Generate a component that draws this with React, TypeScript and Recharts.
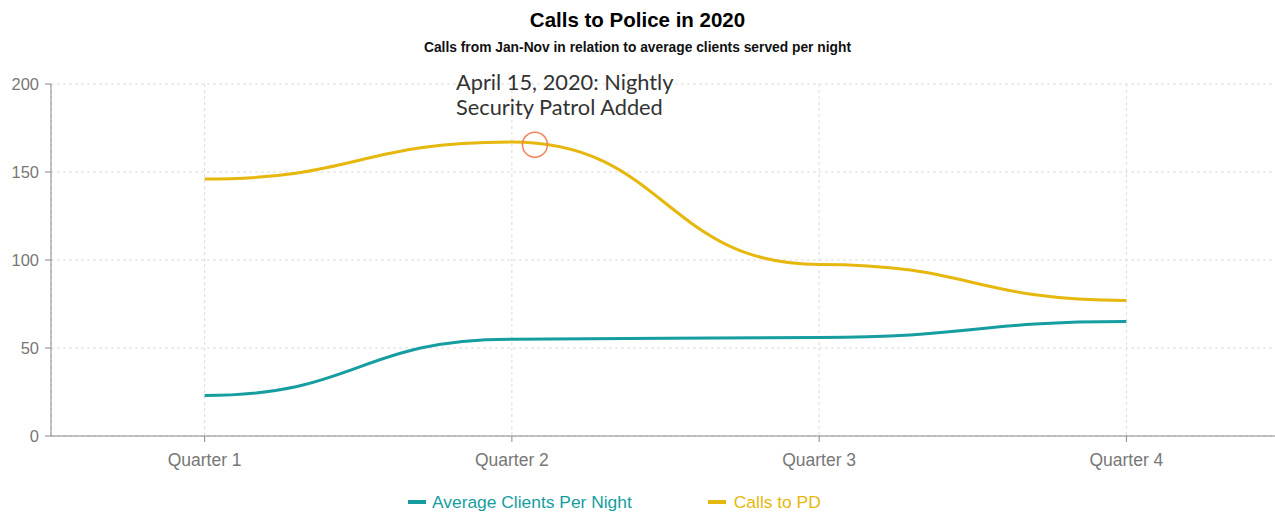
import React from "react";
import {
  LineChart,
  Line,
  XAxis,
  YAxis,
  CartesianGrid,
  ReferenceDot,
} from "recharts";

const quarters = ["Quarter 1", "Quarter 2", "Quarter 3", "Quarter 4"];
const avgClients = [23, 55, 56, 65];
const callsToPD = [146, 167, 97.5, 77];
const yTicks = [0, 50, 100, 150, 200];
const annotationX = 1.075;
const annotationY = 165.5;

const TEAL = "#159d9f";
const YELLOW = "#e6b70c";

const data = quarters.map((q, i) => ({
  idx: i,
  name: q,
  avg: avgClients[i],
  calls: callsToPD[i],
}));

export default function App() {
  return (
    <div
      style={{
        position: "absolute",
        left: 0,
        top: 0,
        width: 1275,
        height: 512,
        overflow: "hidden",
        background: "#fff",
        fontFamily: "Arial, 'Liberation Sans', sans-serif",
      }}
    >
      <div
        style={{
          position: "absolute",
          top: 8,
          left: 0,
          width: 1275,
          textAlign: "center",
          fontSize: 20.5,
          fontWeight: "bold",
          color: "#000",
        }}
      >
        Calls to Police in 2020
      </div>
      <div
        style={{
          position: "absolute",
          top: 40,
          left: 0,
          width: 1275,
          textAlign: "center",
          fontSize: 13.8,
          fontWeight: "bold",
          color: "#111",
        }}
      >
        Calls from Jan-Nov in relation to average clients served per night
      </div>
      <LineChart
        width={1280}
        height={512}
        data={data}
        margin={{ top: 84, right: 0, bottom: 46, left: 6 }}
      >
        <CartesianGrid stroke="#dcdcdc" strokeDasharray="3 3" />
        <XAxis
          dataKey="idx"
          type="number"
          domain={[-0.5, 3.5]}
          ticks={[0, 1, 2, 3]}
          tickFormatter={(v: number) => quarters[v]}
          stroke="#888"
          tick={{ fill: "#777", fontSize: 17.5 }}
          tickSize={6}
          tickMargin={12}
          height={30}
        />
        <YAxis
          domain={[0, 200]}
          ticks={yTicks}
          width={45}
          stroke="#888"
          tick={{ fill: "#777", fontSize: 16.5 }}
          tickSize={6}
          tickMargin={6}
        />
        <Line
          type="bumpX"
          dataKey="avg"
          stroke={TEAL}
          strokeWidth={3}
          dot={false}
          activeDot={false}
          isAnimationActive={false}
        />
        <Line
          type="bumpX"
          dataKey="calls"
          stroke={YELLOW}
          strokeWidth={3}
          dot={false}
          activeDot={false}
          isAnimationActive={false}
        />
        <ReferenceDot
          x={annotationX}
          y={annotationY}
          r={12.5}
          fill="none"
          stroke="#ef8358"
          strokeWidth={1.5}
        />
      </LineChart>
      <div
        style={{
          position: "absolute",
          left: 456,
          top: 69,
          fontFamily: "Lato, sans-serif",
          fontSize: 21.8,
          lineHeight: "25px",
          color: "#333",
        }}
      >
        April 15, 2020: Nightly
        <br />
        Security Patrol Added
      </div>
      <div
        style={{
          position: "absolute",
          top: 493,
          left: 408,
          display: "flex",
          fontSize: 17.4,
          lineHeight: "18px",
          whiteSpace: "nowrap",
        }}
      >
        <div style={{ display: "flex", alignItems: "center", color: TEAL }}>
          <span
            style={{
              display: "inline-block",
              width: 18,
              height: 4,
              background: TEAL,
              marginRight: 6,
            }}
          />
          Average Clients Per Night
        </div>
        <div
          style={{
            display: "flex",
            alignItems: "center",
            color: YELLOW,
            marginLeft: 76,
          }}
        >
          <span
            style={{
              display: "inline-block",
              width: 18,
              height: 4,
              background: YELLOW,
              marginRight: 8,
            }}
          />
          Calls to PD
        </div>
      </div>
    </div>
  );
}
